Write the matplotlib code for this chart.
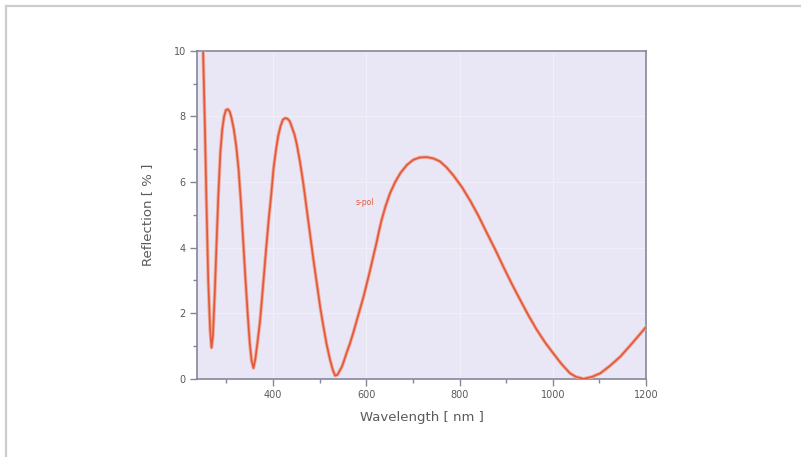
import numpy as np
import matplotlib
matplotlib.use("Agg")
import matplotlib.pyplot as plt
import matplotlib.patheffects as pe
from matplotlib.lines import Line2D
from matplotlib.ticker import MultipleLocator

# s-polarised reflection spectrum of the coating
wavelength = [240, 246, 250, 254, 257, 261, 265, 268, 271, 275, 279, 283, 287,
              291, 295, 299, 303, 307, 311, 316, 321, 326, 331, 336, 341, 346,
              350, 354, 358, 362, 367, 372, 376, 381, 386, 391, 396, 401, 406,
              411, 416, 421, 426, 431, 436, 441, 446, 451, 458, 465, 472, 479,
              486, 494, 501, 508, 515, 522, 528, 533, 538, 543, 547, 551, 558,
              565, 572, 580, 587, 594, 601, 608, 615, 622, 628, 633, 641, 651,
              662, 673, 687, 701, 715, 730, 744, 758, 772, 787, 805, 823, 841,
              859, 877, 894, 912, 930, 948, 966, 984, 1001, 1019, 1037, 1050,
              1066, 1084, 1102, 1123, 1145, 1170, 1200]
reflection = [13.5, 11.8, 10.0, 7.6, 5.5, 3.0, 1.5, 0.95, 1.3, 2.6, 4.2, 5.7, 6.9,
              7.6, 8.0, 8.2, 8.22, 8.15, 7.95, 7.6, 7.1, 6.4, 5.4, 4.2, 3.0, 1.9,
              1.1, 0.55, 0.33, 0.6, 1.15, 1.75, 2.4, 3.25, 4.1, 4.9, 5.6, 6.4, 6.95,
              7.4, 7.7, 7.9, 7.95, 7.93, 7.85, 7.65, 7.45, 7.15, 6.6, 5.95, 5.2, 4.45,
              3.7, 2.9, 2.2, 1.6, 1.05, 0.6, 0.28, 0.1, 0.12, 0.25, 0.35, 0.5, 0.8,
              1.08, 1.4, 1.8, 2.15, 2.5, 2.9, 3.3, 3.73, 4.15, 4.55, 4.85, 5.25, 5.66,
              6.0, 6.27, 6.52, 6.68, 6.75, 6.76, 6.72, 6.63, 6.45, 6.2, 5.85, 5.43, 4.96,
              4.44, 3.93, 3.42, 2.9, 2.41, 1.93, 1.49, 1.1, 0.78, 0.45, 0.17, 0.06,
              0.0, 0.06, 0.17, 0.4, 0.68, 1.08, 1.58]

line_color = "#e0583e"
axis_gray = "#85869a"
text_gray = "#5a5a5a"

fig = plt.figure(figsize=(8.01, 4.57), dpi=100)
ax = fig.add_axes([0.246, 0.171, 0.5605, 0.7177])
ax.set_facecolor("#e9e7f5")

ax.plot(wavelength, reflection, color=line_color, lw=1.2, solid_joinstyle="round",
        path_effects=[pe.Stroke(linewidth=2.5, foreground="#f2a995"), pe.Normal()],
        zorder=3)
ax.text(597, 5.37, "s-pol", color=line_color, fontsize=5.5,
        ha="center", va="center", zorder=4)

ax.set_xlim(237, 1200)
ax.set_ylim(0, 10)
ax.xaxis.set_major_locator(MultipleLocator(200))
ax.xaxis.set_minor_locator(MultipleLocator(100))
ax.yaxis.set_major_locator(MultipleLocator(2))
ax.yaxis.set_minor_locator(MultipleLocator(1))
ax.grid(True, which="major", color="#f0eff8", lw=0.8, zorder=0)

for side in ["left", "bottom", "top", "right"]:
    ax.spines[side].set_color(axis_gray)
    ax.spines[side].set_linewidth(1.2)
ax.tick_params(which="major", direction="out", length=5, width=1,
               color=axis_gray, labelsize=7, labelcolor=text_gray, pad=3)
ax.tick_params(which="minor", direction="out", length=3, width=1, color=axis_gray)

ax.set_xlabel("Wavelength [ nm ]", fontsize=9.5, color=text_gray, labelpad=8)
ax.set_ylabel("Reflection [ % ]", fontsize=9.5, color=text_gray, labelpad=14)

# light frame along the top and left edges
fig.add_artist(Line2D([6 / 801, 1], [1 - 6 / 457, 1 - 6 / 457],
                      transform=fig.transFigure, color="#cccccc", lw=1.6))
fig.add_artist(Line2D([6 / 801, 6 / 801], [0, 1 - 6 / 457],
                      transform=fig.transFigure, color="#cccccc", lw=1.6))

fig.savefig("out.png", dpi=100)
